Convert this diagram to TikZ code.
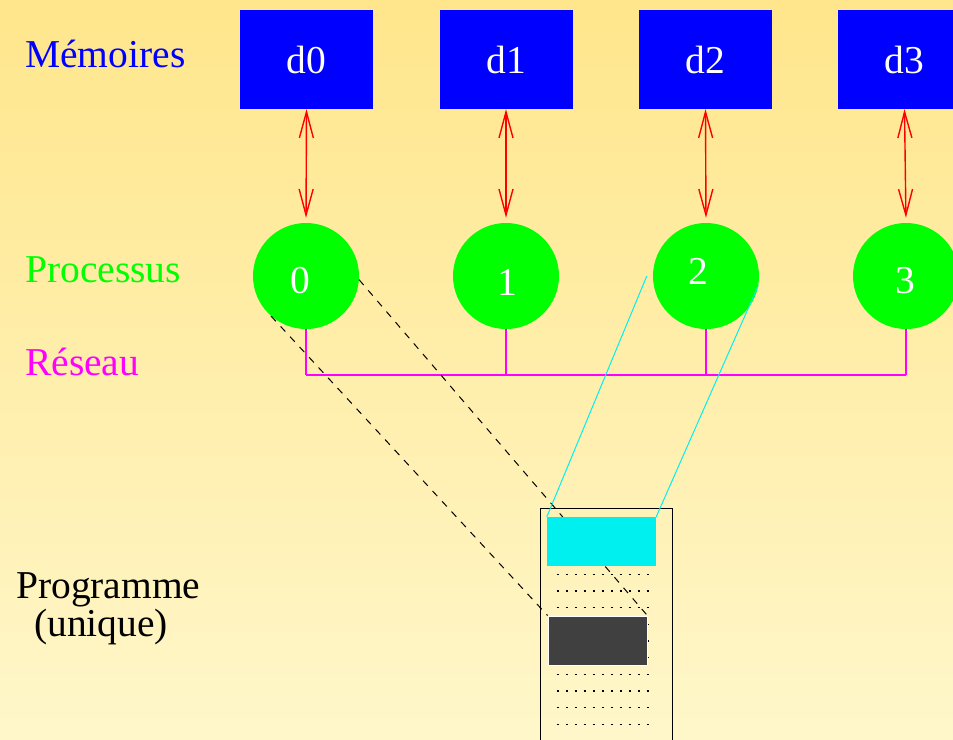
\documentclass[tikz,border=0pt]{standalone}
\usepackage{fontspec}
\setmainfont{Liberation Serif}
\usetikzlibrary{arrows.meta}
\definecolor{bgtop}{RGB}{255,230,140}
\definecolor{bgbot}{RGB}{255,247,202}
\definecolor{cyanseg}{RGB}{0,240,240}
\definecolor{darkblk}{RGB}{64,64,64}
\definecolor{memblue}{RGB}{0,0,255}
\definecolor{procgreen}{RGB}{0,255,0}
\definecolor{netmag}{RGB}{255,0,255}
\definecolor{linkred}{RGB}{255,0,0}
\begin{document}
\begin{tikzpicture}[x=1pt,y=1pt,
  mem/.style={fill=memblue,minimum width=133pt,minimum height=99pt,inner sep=0pt,text=white},
  proc/.style={circle,fill=procgreen,minimum size=106pt,inner sep=0pt},
  num/.style={text=white,inner sep=0pt},
  lbl/.style={anchor=base west,inner sep=0pt},
  link/.style={linkred,line width=1.4pt,{Straight Barb[length=26pt,width=14pt]}-{Straight Barb[length=26pt,width=14pt]}},
  net/.style={netmag,line width=1.2pt}]
\shade[top color=bgtop,bottom color=bgbot] (0,0) rectangle (953,739);
\useasboundingbox (0,0) rectangle (953,739);
\fontsize{39.5}{44}\selectfont

\node[lbl,text=memblue] (lmem) at (25,671) {Mémoires};
\node[lbl,text=procgreen] (lproc) at (25,456) {Processus};
\node[lbl,text=netmag] (lnet) at (25,363) {Réseau};
\node[lbl] (lprog) at (16,140) {Programme};
\node[lbl] (luniq) at (34,102) {(unique)};

\begin{scope}
\clip (0,0) rectangle (953,739);
\foreach \i/\x in {0/306.5,1/506,2/705.5,3/904.5}
  \node[mem] (m\i) at (\x,679.5) {d\i};
\end{scope}

\foreach \i/\x in {0/306,1/506,2/706,3/906}
  \node[proc] (p\i) at (\x,463) {};
\node[num] (n0) at (300,458) {0};
\node[num] (n1) at (507,457) {1};
\node[num] (n2) at (698,468) {2};
\node[num] (n3) at (905,458) {3};

\foreach \i in {0,1,2,3}
  \draw[link,shorten >=5pt] (m\i.south) -- (p\i.north);

\coordinate (b0) at (306,364);
\coordinate (b3) at (906,364);
\draw[net] (b0) -- (b3);
\foreach \i in {0,1,2,3}
  \draw[net] (p\i.south) -- (p\i.south |- b0);

\node[draw=black,line width=0.8pt,minimum width=132pt,minimum height=240pt,inner sep=0pt] (prog) at (606,111) {};
\foreach \y in {574.3,591,607.7,624.3,641,657.7,674.3,691,707.7,724.3}
  \draw[line width=1.2pt,dash pattern=on 2.5pt off 6.5pt] (556.5,739-\y) -- (652,739-\y);

\node[fill=darkblk,draw=white,line width=0.8pt,minimum width=99pt,minimum height=49pt,inner sep=0pt] (blk) at (597.5,98.5) {};
\draw[line width=1pt,dash pattern=on 7pt off 7pt] (p0.229) -- (blk.north west);
\draw[line width=1pt,dash pattern=on 7pt off 7pt] (p0.-4) -- (blk.north east);

\node[fill=cyanseg,minimum width=109pt,minimum height=49pt,inner sep=0pt] (seg) at (601.5,197.5) {};
\draw[cyanseg,line width=1pt] ([xshift=-6pt]p2.west) -- (seg.north west);
\draw[cyanseg,line width=1pt] (p2.-10) -- (seg.north east);
\end{tikzpicture}
\end{document}
